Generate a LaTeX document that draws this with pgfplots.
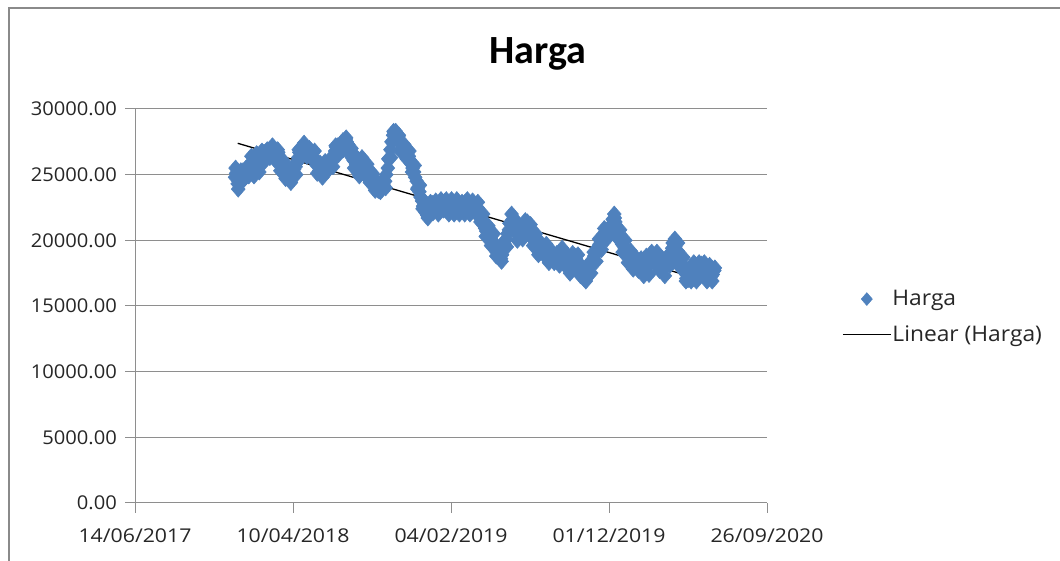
\documentclass[border=0pt]{standalone}
\usepackage{pgfplots}
\pgfplotsset{compat=1.18}
\usepackage{pgfplotstable}
\usepackage{fontspec}
\setmainfont{Open Sans}[FakeStretch=1.06]
\newfontfamily\titlefont{Carlito}
\definecolor{mblue}{HTML}{4F81BD}
\definecolor{gridgray}{HTML}{8E8E8E}
\definecolor{bordergray}{HTML}{8A8A8A}

\pgfplotstableread{
x y
190 24800
191 25500
192 25100
195 24300
196 23900
197 24500
200 24600
201 25300
202 25000
205 25300
206 24600
207 24700
210 24800
211 25500
212 25300
215 25500
216 24900
217 25100
220 25900
221 26400
222 25500
225 25500
226 24900
227 26000
230 26100
231 26600
232 25600
235 25800
236 25200
237 26200
240 26300
241 26800
242 26000
245 26700
246 26000
247 26500
250 26400
251 26900
252 26700
255 26900
256 26300
257 26600
260 27000
261 27200
262 26900
265 26800
266 26100
267 26500
270 26400
271 26900
272 26700
275 26000
276 25300
277 25800
280 25500
281 26100
282 25900
285 25200
286 24700
287 25000
290 24900
291 25500
292 25300
295 24600
296 24400
297 24800
300 25000
301 25700
302 25400
305 25600
306 25000
307 25900
310 26300
311 26900
312 26700
315 27000
316 26300
317 26800
320 27200
321 27400
322 27100
325 27000
326 26400
327 26600
330 26500
331 27000
332 26900
335 26800
336 26200
337 26400
340 26200
341 26800
342 26000
345 25700
346 25100
347 25900
350 25300
351 25900
352 25600
355 25000
356 24800
357 25300
360 25400
361 26000
362 25700
365 25900
366 25300
367 25600
370 25500
371 26100
372 25900
375 26200
376 25600
377 26500
380 26800
381 27200
382 27100
385 27200
386 26500
387 26900
390 27000
391 27300
392 27400
395 27600
396 26900
397 27300
400 27700
401 27800
402 27500
405 27300
406 26700
407 26900
410 26600
411 27000
412 26300
415 26100
416 25500
417 26000
420 25800
421 26300
422 25500
425 25500
426 24900
427 25800
430 25900
431 26300
432 25600
435 25600
436 25000
437 25400
440 25300
441 25800
442 25100
445 25000
446 24400
447 24700
450 24600
451 25100
452 24400
455 24200
456 23800
457 24000
460 23900
461 24400
462 23800
465 23800
466 23700
467 24000
470 24000
471 24600
472 24200
475 24500
476 24000
477 25000
480 25500
481 26200
482 26200
485 26900
486 26300
487 27500
490 28000
491 28300
492 28200
495 28300
496 27700
497 28100
500 27900
501 28000
502 27600
505 27400
506 26700
507 27000
510 27000
511 27300
512 26600
515 26800
516 26200
517 26700
520 26400
521 26800
522 26100
525 25800
526 25200
527 25500
530 25200
531 25700
532 24800
535 24500
536 23900
537 24000
540 23700
541 24200
542 23300
545 23000
546 22400
547 22600
550 22400
551 22900
552 22100
555 21900
556 21700
557 22000
560 22300
561 22900
562 22600
565 22800
566 22100
567 22500
570 22500
571 23000
572 22700
575 22300
576 22000
577 22500
580 22600
581 23100
582 22400
585 22900
586 22300
587 22700
590 22600
591 23100
592 22900
595 22400
596 22000
597 22600
600 22700
601 23100
602 22400
605 22500
606 22000
607 22700
610 22800
611 23100
612 22500
615 22600
616 22000
617 22400
620 22300
621 22900
622 22700
625 22600
626 22000
627 22900
630 22800
631 23100
632 22500
635 22600
636 22000
637 22700
640 22400
641 23000
642 22600
645 22700
646 22100
647 22400
650 22500
651 22900
652 22300
655 22000
656 21400
657 21700
660 21400
661 22000
662 21200
665 20900
666 20300
667 20700
670 20500
671 21100
672 20300
675 20200
676 19600
677 20000
680 19900
681 20500
682 19600
685 19400
686 18800
687 19100
690 18800
691 19400
692 18600
695 18600
696 18400
697 18900
700 19300
701 19900
702 19700
705 20100
706 19500
707 20500
710 20800
711 21300
712 21300
715 22000
716 21300
717 21600
720 21200
721 21600
722 20900
725 20600
726 20000
727 20400
730 20300
731 20900
732 20500
735 20700
736 20100
737 20900
740 21100
741 21500
742 21300
745 21400
746 20800
747 21000
750 20700
751 21200
752 20400
755 20200
756 19600
757 20000
760 19900
761 20500
762 19700
765 19500
766 18900
767 19300
770 19200
771 19800
772 19400
775 19500
776 18900
777 19200
780 19100
781 19700
782 18800
785 18900
786 18300
787 18700
790 18600
791 19200
792 18800
795 18900
796 18300
797 18600
800 18400
801 19000
802 18500
805 18700
806 18100
807 18900
810 19000
811 19400
812 18800
815 18700
816 18100
817 18500
820 18300
821 18900
822 18100
825 18000
826 17500
827 18200
830 18400
831 19000
832 18600
835 18800
836 18200
837 18600
840 18400
841 18900
842 18100
845 17800
846 17300
847 17600
850 17400
851 17900
852 17100
855 17000
856 16900
857 17400
860 17600
861 18200
862 17800
865 18100
866 17500
867 18300
870 18500
871 19100
872 18800
875 19000
876 18400
877 19300
880 19500
881 20100
882 19700
885 19900
886 19300
887 20100
890 20300
891 20900
892 20500
895 20700
896 20100
897 20600
900 20400
901 21000
902 20800
905 21200
906 20600
907 21600
910 22000
911 21700
912 21400
915 20800
916 20200
917 20500
920 20200
921 20800
922 19900
925 19700
926 19100
927 19600
930 19400
931 20000
932 19100
935 18900
936 18300
937 18800
940 18600
941 19200
942 18500
945 18400
946 17800
947 18200
950 18100
951 18700
952 18200
955 18300
956 17700
957 18100
960 18000
961 18600
962 17900
965 17800
966 17300
967 18000
970 18200
971 18800
972 18100
975 18000
976 17400
977 18300
980 18500
981 19100
982 18700
985 18900
986 18300
987 18800
990 18600
991 19100
992 18400
995 18300
996 17700
997 18100
1000 18000
1001 18600
1002 17900
1005 17900
1006 17300
1007 18000
1010 18200
1011 18800
1012 18400
1015 18700
1016 18100
1017 19000
1020 19400
1021 19800
1022 19800
1025 20100
1026 19500
1027 19700
1030 19200
1031 19800
1032 18800
1035 18500
1036 17900
1037 18300
1040 18100
1041 18700
1042 17800
1045 17500
1046 16900
1047 17100
1050 17000
1051 17800
1052 17300
1055 17500
1056 16900
1057 17600
1060 17800
1061 18300
1062 17500
1065 17400
1066 16900
1067 17500
1070 17700
1071 18300
1072 18000
1075 18200
1076 17600
1077 18000
1080 17800
1081 18300
1082 17600
1085 17400
1086 16900
1087 17500
1090 17600
1091 18100
1092 17400
1095 17300
1096 16900
1097 17400
1100 17700
1101 17900
}\hargadata

\begin{document}
\begin{tikzpicture}
\useasboundingbox (0pt,0pt) rectangle (1060pt,561pt);
\draw[bordergray, line width=1.2pt] (1060pt,553pt) -- (9pt,553pt) -- (9pt,0pt);
\node[anchor=base, font=\titlefont\bfseries\fontsize{40}{48}\selectfont] at (538pt,497pt) {Harga};
\begin{axis}[
  at={(135pt,58pt)}, anchor=south west,
  width=632pt, height=394pt, scale only axis,
  xmin=0, xmax=1200, ymin=0, ymax=30000,
  axis x line*=bottom, axis y line*=left,
  axis line style={gridgray, line width=1pt, -},
  xtick={0,300,600,900,1200},
  xticklabels={14/06/2017,10/04/2018,04/02/2019,01/12/2019,26/09/2020},
  ytick={0,5000,10000,15000,20000,25000,30000},
  ymajorgrids, grid style={gridgray, line width=1pt},
  tick align=outside, major tick length=10pt,
  tick style={gridgray, line width=1pt},
  tick label style={font=\fontsize{19}{22}\selectfont, text=black!85},
  yticklabel style={inner sep=0pt, xshift=-8pt},
  xticklabel style={inner sep=0pt, yshift=-16pt, font=\fontsize{19}{22}\addfontfeatures{FakeStretch=1.12}\selectfont},
  /pgf/number format/assume math mode=true,
  yticklabel={\pgfmathprintnumber[fixed, fixed zerofill, precision=2, 1000 sep={}]{\tick}},
  scaled y ticks=false,
  clip=false,
  legend style={at={(1.1187,0.542)}, anchor=north west, draw=none, fill=none,
    inner sep=0pt, row sep=16pt,
    font=\fontsize{21.5}{24}\selectfont,
    nodes={inner sep=1pt, text=black!85}},
  legend cell align=left,
]
\addplot[only marks, mark=diamond*, mark size=8pt,
  mark options={xscale=1.15, fill=mblue, draw=mblue, line width=0.6pt},
  legend image code/.code={\draw[mblue, fill=mblue] plot[mark=diamond*, mark size=6.5pt, mark options={xscale=1.15}] coordinates {(24pt,0pt)};}]
  table[x=x, y=y] {\hargadata};
\addlegendentry{Harga}
\addplot[black, line width=1.3pt, no marks,
  legend image code/.code={\draw[black, line width=1.2pt] (0pt,0pt) -- (48pt,0pt);}]
  coordinates {(195,27390) (1090,16830)};
\addlegendentry{Linear (Harga)}
\end{axis}
\end{tikzpicture}
\end{document}
